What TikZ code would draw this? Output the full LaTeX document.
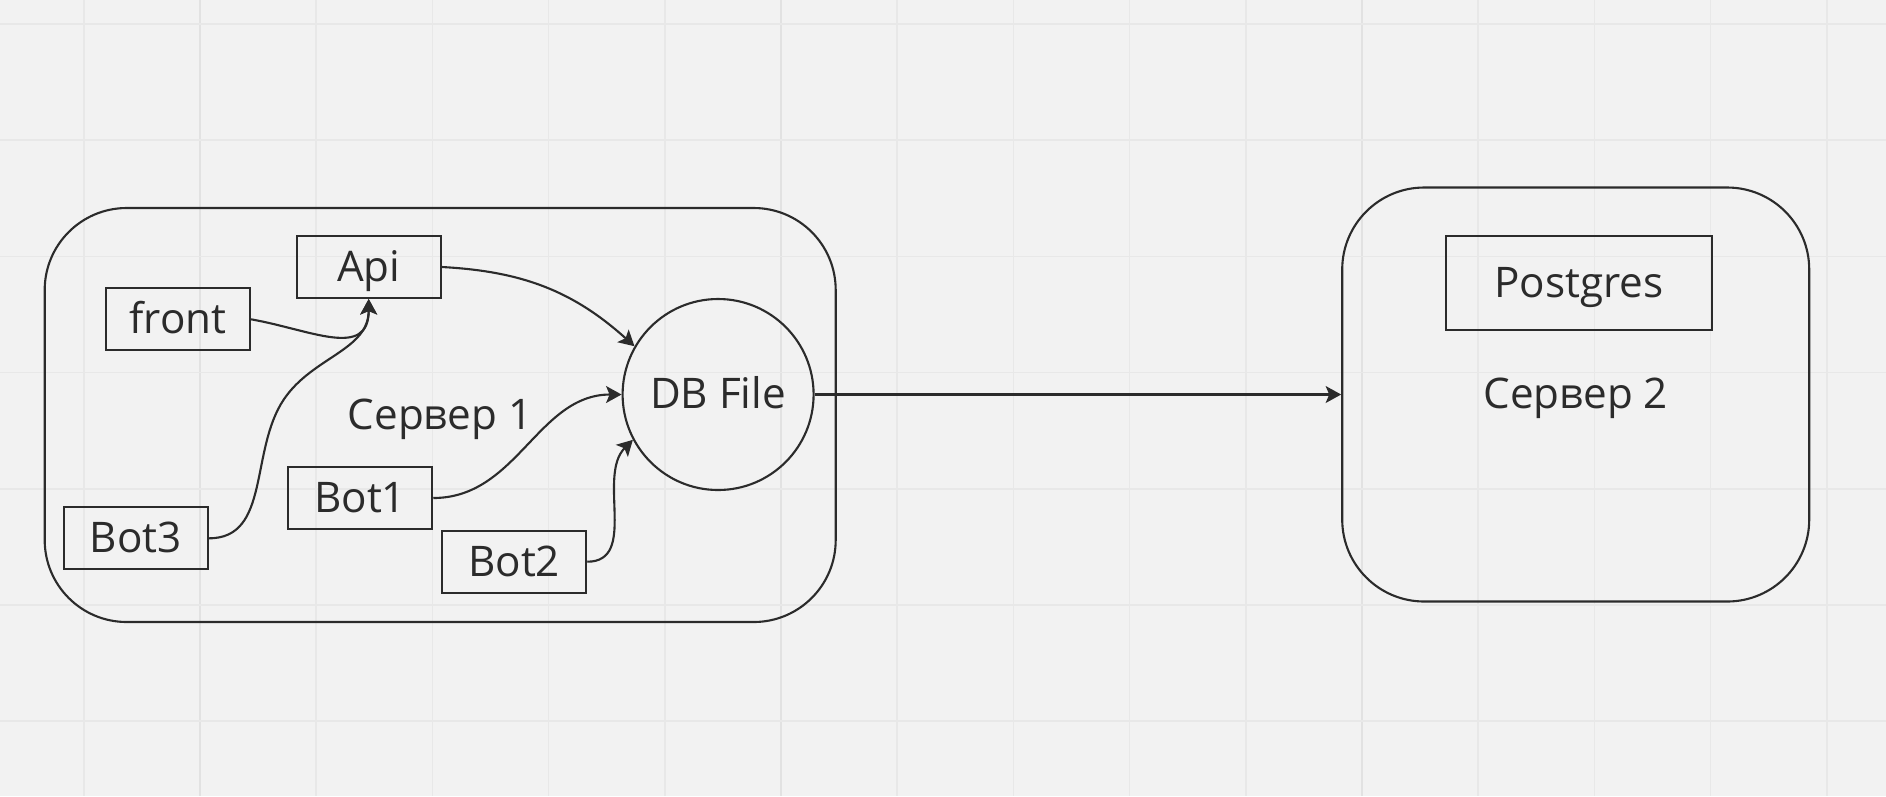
\documentclass[tikz,border=0pt]{standalone}
\usepackage{fontspec}
\setmainfont{Open Sans}
\usetikzlibrary{arrows.meta, positioning}

\definecolor{board}{HTML}{F2F2F2}
\definecolor{gridline}{HTML}{E8E8E8}
\definecolor{gridmajor}{HTML}{E2E2E2}
\definecolor{ink}{HTML}{2B2B2B}

\begin{document}
\begin{tikzpicture}[>={Stealth[length=4.4pt,width=4.8pt,inset=1pt]}, line width=0.6pt, color=ink,
    font=\fontsize{12}{14}\selectfont,
    service/.style={rectangle, draw, minimum width=1.44cm, minimum height=0.62cm, inner sep=0pt,
                    text height=1.07em, text depth=0.25em},
    server/.style={rectangle, rounded corners=0.82cm, draw, minimum height=4.14cm, inner sep=0pt,
                   text height=1.07em, text depth=0.25em},
    store/.style={circle, draw, minimum size=1.91cm, inner sep=0pt, text height=1.07em, text depth=0.25em}]

  % Board and grid
  \fill[board] (0,0) rectangle (18.86,-7.96);
  \useasboundingbox (0,0) rectangle (18.86,-7.96);
  \foreach \i in {0,...,15}
    \draw[gridline, line width=0.45pt] ({0.838+1.162*\i},0) -- ({0.838+1.162*\i},-7.96);
  \foreach \i in {1,6,11}
    \draw[gridmajor, line width=0.55pt] ({0.838+1.162*\i},0) -- ({0.838+1.162*\i},-7.96);
  \foreach \j in {0,...,6}
    \draw[gridline, line width=0.45pt] (0,{-0.24-1.162*\j}) -- (18.86,{-0.24-1.162*\j});

  % Servers
  \node[server, minimum width=7.91cm] (server1) at (4.402,-4.150) {Сервер 1};
  \node[server, minimum width=4.67cm] (server2) at (15.757,-3.945) {Сервер 2};

  % Services on server 1
  \node[service] (api)   at (3.687,-2.670) {Api};
  \node[service] (front) at (1.780,-3.193) {front};
  \node[service] (bot3)  at (1.359,-5.383) {Bot3};
  \node[service] (bot1)  at (3.602,-4.980) {Bot1};
  \node[service] (bot2)  at (5.142,-5.617) {Bot2};
  \node[store]   (db)    at (7.181,-3.945) {DB File};

  % Service on server 2
  \node[service, minimum width=2.66cm, minimum height=0.94cm] (postgres) at (15.787,-2.827) {Postgres};

  % Arrows into Api
  \coordinate (b3mid) at (2.839,-3.993);
  \draw[->] (front.east) to [out=-10,in=-90,looseness=1.3] (api.south);
  \draw[->] (bot3.east) to [out=0,in=-124] (b3mid) to [out=56,in=-90] (api.south);

  % Arrows into DB File
  \draw[->] (api.east) to [out=-3,in=138] (db.150);
  \draw[->] (bot1.east) to [out=0,in=180] (db.west);
  \draw[->] (bot2.east) to [out=0,in=-135] (db.208);

  % DB File to server 2
  \draw[->] (db.east) -- (server2.west);
\end{tikzpicture}
\end{document}
